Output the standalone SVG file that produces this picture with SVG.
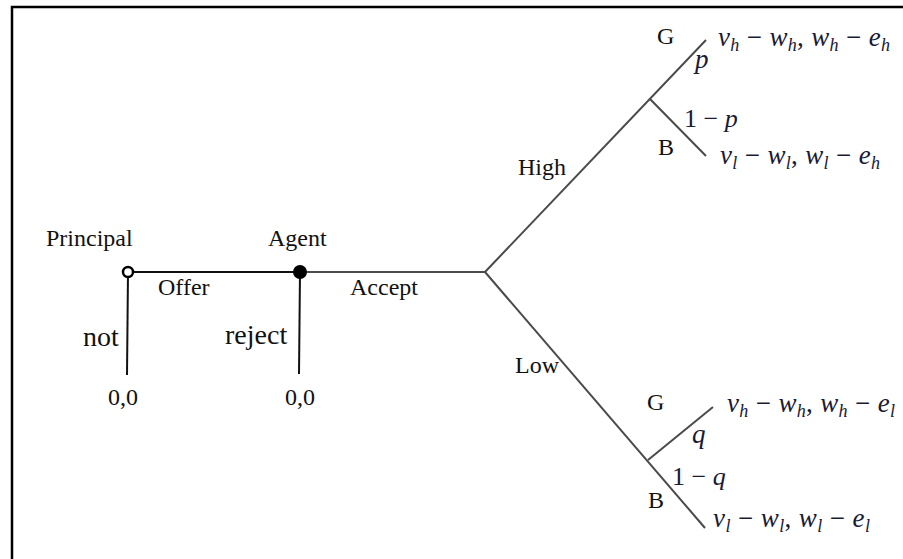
<svg xmlns="http://www.w3.org/2000/svg" width="903" height="559" viewBox="0 0 903 559">
<style>
.lbl{font-family:"Liberation Serif","Times New Roman",serif;font-size:24px;fill:#111}
.big{font-size:28px}
.math{font-family:"Liberation Serif","Times New Roman",serif;font-size:27px;fill:#1a1a33}
.pm{font-size:26px}
.it{font-style:italic}
.sub{font-style:italic;font-size:18px}
.edge{stroke:#4a4a4a;stroke-width:2;fill:none}
.edgek{stroke:#111;stroke-width:2;fill:none}
</style>
<rect x="0" y="0" width="903" height="559" fill="#fff"/>
<path d="M12,559 V7 H903" fill="none" stroke="#000" stroke-width="2.5"/>
<g id="connectors">
  <line class="edgek" x1="128" y1="272" x2="300" y2="272"/>
  <line class="edgek" x1="128" y1="272" x2="127" y2="375"/>
  <line class="edgek" x1="300" y1="272" x2="299" y2="374"/>
  <line class="edge" x1="300" y1="272" x2="485" y2="272"/>
  <line class="edge" x1="485" y1="272" x2="706" y2="40"/>
  <line class="edge" x1="650" y1="99" x2="706" y2="156"/>
  <line class="edge" x1="485" y1="272" x2="705" y2="528"/>
  <line class="edge" x1="648" y1="460" x2="713" y2="407"/>
  <text class="lbl" x="158" y="295">Offer</text>
  <text class="lbl big" x="83" y="346">not</text>
  <text class="lbl big" x="225" y="344">reject</text>
  <text class="lbl" x="350" y="295">Accept</text>
  <text class="lbl" x="518" y="175">High</text>
  <text class="lbl" x="515" y="373">Low</text>
  <text class="math it" x="695" y="68">p</text>
  <text class="math pm" x="684" y="127">1 − <tspan class="it">p</tspan></text>
  <text class="math it" x="692" y="443">q</text>
  <text class="math pm" x="672" y="485">1 − <tspan class="it">q</tspan></text>
</g>
<g id="node-principal">
  <circle cx="128" cy="272" r="5" fill="#fff" stroke="#000" stroke-width="2.5"/>
  <text class="lbl" x="46" y="246">Principal</text>
</g>
<g id="node-agent">
  <circle cx="300" cy="272" r="7" fill="#000"/>
  <text class="lbl" x="268" y="246">Agent</text>
</g>
<g id="node-nature">
  <circle cx="485" cy="272" r="0" fill="none"/>
</g>
<g id="node-high">
  <text class="lbl" x="657" y="44">G</text>
  <text class="lbl" x="658" y="155">B</text>
</g>
<g id="node-low">
  <text class="lbl" x="647" y="410">G</text>
  <text class="lbl" x="648" y="508">B</text>
</g>
<g id="term-principal-not">
  <text class="lbl" x="108" y="405">0,0</text>
</g>
<g id="term-agent-reject">
  <text class="lbl" x="285" y="405">0,0</text>
</g>
<g id="term-high-g">
  <text class="math" x="718" y="46" textLength="172" lengthAdjust="spacing"><tspan class="it">v</tspan><tspan class="sub" dy="5">h</tspan><tspan dy="-5"> − </tspan><tspan class="it">w</tspan><tspan class="sub" dy="5">h</tspan><tspan dy="-5">, </tspan><tspan class="it">w</tspan><tspan class="sub" dy="5">h</tspan><tspan dy="-5"> − </tspan><tspan class="it">e</tspan><tspan class="sub" dy="5">h</tspan></text>
</g>
<g id="term-high-b">
  <text class="math" x="720" y="164" textLength="160" lengthAdjust="spacing"><tspan class="it">v</tspan><tspan class="sub" dy="5">l</tspan><tspan dy="-5"> − </tspan><tspan class="it">w</tspan><tspan class="sub" dy="5">l</tspan><tspan dy="-5">, </tspan><tspan class="it">w</tspan><tspan class="sub" dy="5">l</tspan><tspan dy="-5"> − </tspan><tspan class="it">e</tspan><tspan class="sub" dy="5">h</tspan></text>
</g>
<g id="term-low-g">
  <text class="math" x="727" y="412" textLength="168" lengthAdjust="spacing"><tspan class="it">v</tspan><tspan class="sub" dy="5">h</tspan><tspan dy="-5"> − </tspan><tspan class="it">w</tspan><tspan class="sub" dy="5">h</tspan><tspan dy="-5">, </tspan><tspan class="it">w</tspan><tspan class="sub" dy="5">h</tspan><tspan dy="-5"> − </tspan><tspan class="it">e</tspan><tspan class="sub" dy="5">l</tspan></text>
</g>
<g id="term-low-b">
  <text class="math" x="713" y="527" textLength="157" lengthAdjust="spacing"><tspan class="it">v</tspan><tspan class="sub" dy="5">l</tspan><tspan dy="-5"> − </tspan><tspan class="it">w</tspan><tspan class="sub" dy="5">l</tspan><tspan dy="-5">, </tspan><tspan class="it">w</tspan><tspan class="sub" dy="5">l</tspan><tspan dy="-5"> − </tspan><tspan class="it">e</tspan><tspan class="sub" dy="5">l</tspan></text>
</g>
</svg>
